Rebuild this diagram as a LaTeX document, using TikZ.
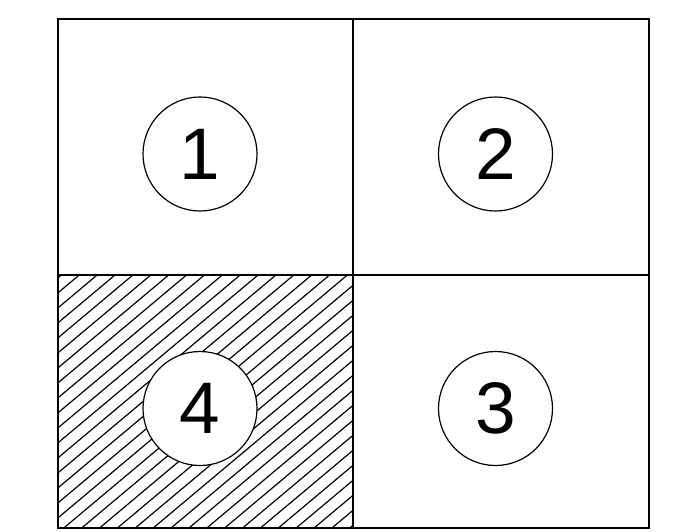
\documentclass[tikz,border=0pt]{standalone}
\usepackage{fontspec}
\setmainfont{Liberation Sans}
\tikzset{
  cell/.style={draw=black, line width=1.4pt},
  num/.style={circle, draw=black, line width=1.2pt, fill=white, minimum size=114pt, inner sep=0pt, font=\fontsize{73}{73}\selectfont},
  hatch/.style={draw=black, line width=1.2pt}
}
\begin{document}
\begin{tikzpicture}[x=1pt,y=-1pt]
\fill[white] (0,0) rectangle (676,531);
\useasboundingbox (0,0) rectangle (676,531);
% hatching of cell 4
\begin{scope}
\clip (58,275) rectangle (353,528);
\foreach \b in {311.5,326.5,...,840} {
  \draw[hatch] (0,\b) -- (420,\b-352.4);
}
\end{scope}
% grid
\draw[cell] (58,19) rectangle (649,528);
\draw[cell] (353,19) -- (353,528);
\draw[cell] (58,275) -- (649,275);
% numbered circles
\node[num] (n1) at (200,154) {1};
\node[num] (n2) at (495.5,154) {2};
\node[num] (n4) at (200,408.5) {4};
\node[num] (n3) at (495.5,408.5) {3};
\end{tikzpicture}
\end{document}
